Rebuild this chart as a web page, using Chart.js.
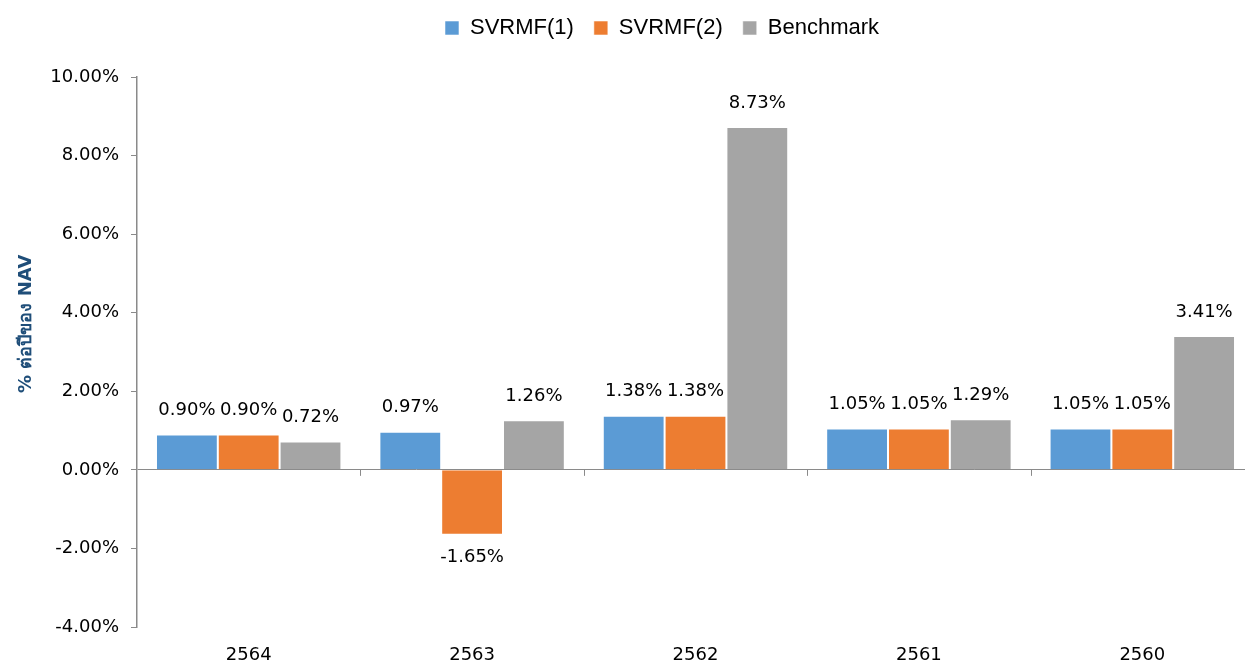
<!DOCTYPE html>
<html lang="th">
<head>
<meta charset="UTF-8">
<title>SVRMF</title>
<script src="https://cdn.jsdelivr.net/npm/chart.js@4.4.0/dist/chart.umd.min.js"></script>
<style>
  html, body { margin: 0; padding: 0; background: #fff; overflow: hidden; }
  .wrap { width: 1262px; height: 663px; }
</style>
</head>
<body>
<div class="wrap"><canvas id="chart"></canvas></div>
<script>
// data (% per year)
const years = ['2564', '2563', '2562', '2561', '2560'];
const svrmf1 = [0.90, 0.97, 1.38, 1.05, 1.05];
const svrmf2 = [0.90, -1.65, 1.38, 1.05, 1.05];
const benchmark = [0.72, 1.26, 8.73, 1.29, 3.41];
const seriesNames = ['SVRMF(1)', 'SVRMF(2)', 'Benchmark'];
const yTitle = '% ต่อปีของ NAV';

const axisGray = '#8a8a8a';
const pct = v => Number(v).toFixed(2) + '%';

// value labels above / below each bar
const valueLabels = {
  id: 'valueLabels',
  afterDatasetsDraw(chart) {
    const ctx = chart.ctx;
    ctx.save();
    ctx.font = '18px "DejaVu Sans"';
    ctx.fillStyle = '#000';
    ctx.textAlign = 'center';
    ctx.textBaseline = 'middle';
    chart.data.datasets.forEach((ds, i) => {
      chart.getDatasetMeta(i).data.forEach((bar, j) => {
        const v = ds.data[j];
        const y = v >= 0 ? bar.y - 24 : bar.y + 23;
        ctx.fillText(pct(v), bar.x, y);
      });
    });
    ctx.restore();
  }
};

// small tick marks on the zero line between categories, like the original
const categoryTicks = {
  id: 'categoryTicks',
  afterDatasetsDraw(chart) {
    const x = chart.scales.x, y = chart.scales.y;
    const y0 = y.getPixelForValue(0);
    const ctx = chart.ctx;
    ctx.save();
    ctx.strokeStyle = axisGray;
    ctx.lineWidth = 1;
    for (let i = 1; i < years.length; i++) {
      const px = Math.round((x.getPixelForValue(i - 1) + x.getPixelForValue(i)) / 2) + 0.5;
      ctx.beginPath();
      ctx.moveTo(px, y0);
      ctx.lineTo(px, y0 + 6);
      ctx.stroke();
    }
    ctx.restore();
  }
};

// legend sits a bit right of centre and has extra room below it
const legendPlace = {
  id: 'legendPlace',
  afterInit(chart) {
    const fit = chart.legend.fit;
    chart.legend.fit = function () { fit.call(this); this.height += 28; };
  },
  afterLayout(chart) {
    chart.legend.left += 31;
    chart.legend.right += 31;
  }
};

new Chart(document.getElementById('chart'), {
  type: 'bar',
  data: {
    labels: years,
    datasets: [
      { label: seriesNames[0], data: svrmf1, backgroundColor: '#5b9bd5' },
      { label: seriesNames[1], data: svrmf2, backgroundColor: '#ed7d31' },
      { label: seriesNames[2], data: benchmark, backgroundColor: '#a5a5a5' }
    ].map(d => Object.assign(d, {
      borderColor: 'rgba(255,255,255,0.55)',
      borderWidth: 1,
      categoryPercentage: 0.83,
      barPercentage: 1.0
    }))
  },
  options: {
    responsive: true,
    maintainAspectRatio: false,
    animation: false,
    layout: { padding: { top: -3, left: 8, right: 8, bottom: 0 } },
    plugins: {
      legend: {
        position: 'top',
        labels: {
          boxWidth: 14,
          boxHeight: 14,
          padding: 20,
          color: '#000',
          font: { family: '"Liberation Sans", Arial, sans-serif', size: 22 }
        }
      },
      tooltip: { enabled: false }
    },
    scales: {
      x: {
        grid: { display: false, drawTicks: false },
        border: { display: false },
        ticks: {
          padding: 18,
          color: '#000',
          font: { family: '"DejaVu Sans"', size: 18 }
        },
        afterFit: s => { s.height = 36; }
      },
      y: {
        min: -4,
        max: 10,
        ticks: {
          stepSize: 2,
          padding: 12,
          color: '#000',
          font: { family: '"DejaVu Sans"', size: 18 },
          callback: v => pct(v)
        },
        grid: {
          drawOnChartArea: true,
          color: c => (c.tick && c.tick.value === 0 ? axisGray : 'rgba(0,0,0,0)'),
          tickColor: axisGray,
          tickLength: 6,
          lineWidth: 1
        },
        border: { display: true, color: axisGray, width: 1.5 },
        title: {
          display: true,
          // leading spaces lift the rotated title a little, as in the original
          text: ' '.repeat(9) + yTitle,
          color: '#1f4e79',
          padding: { top: 8, bottom: 0 },
          font: { family: '"DejaVu Sans", "Noto Sans", sans-serif', size: 18, weight: 'bold' }
        },
        afterFit: s => { s.width = 129; }
      }
    }
  },
  plugins: [valueLabels, categoryTicks, legendPlace]
});
</script>
</body>
</html>
